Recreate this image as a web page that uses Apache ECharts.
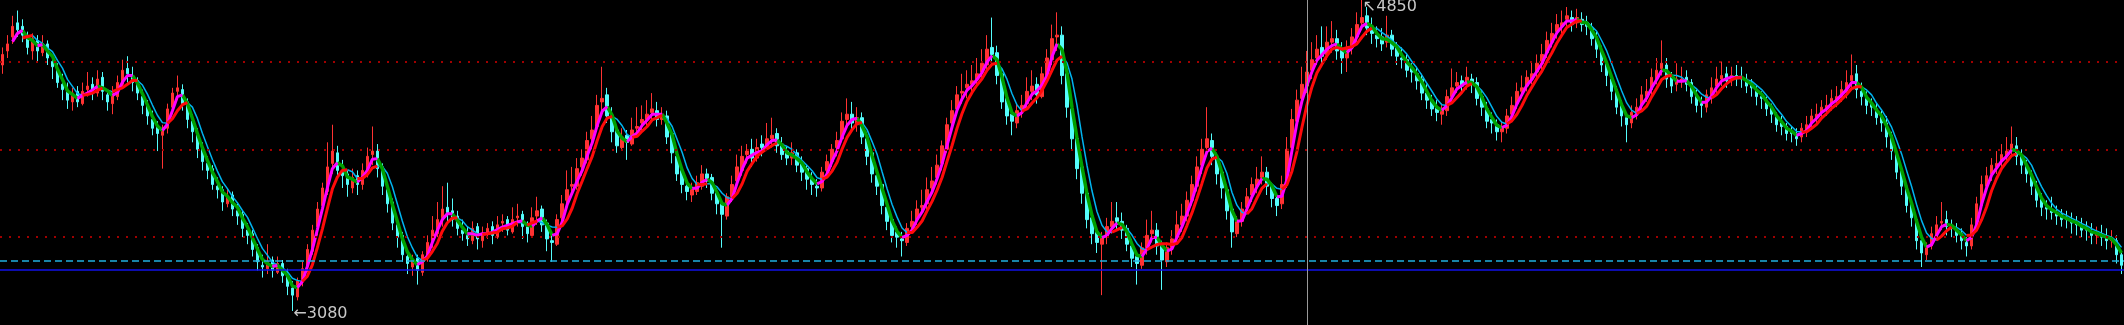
<!DOCTYPE html>
<html><head><meta charset="utf-8">
<script src="https://cdn.jsdelivr.net/npm/echarts@6/dist/echarts.min.js"></script>
<style>html,body{margin:0;padding:0;background:#000;}#c{width:2124px;height:325px;}</style>
</head><body><div id="c"></div>
<script>
// [open, close, low, high]
const candles = [
[4480,4540,4430,4580],[4560,4600,4520,4650],[4640,4700,4600,4760],[4720,4680,4640,4790],[4700,4650,4610,4740],[4630,4580,4540,4670],[4560,4630,4510,4660],[4620,4560,4500,4650],[4550,4600,4530,4650],[4600,4520,4480,4620],
[4500,4470,4400,4540],[4450,4380,4350,4490],[4370,4340,4280,4430],[4330,4280,4230,4380],[4270,4320,4220,4350],[4330,4270,4240,4360],[4260,4330,4250,4380],[4340,4360,4300,4440],[4370,4320,4280,4410],[4320,4400,4300,4450],
[4410,4330,4280,4440],[4310,4270,4220,4340],[4260,4320,4200,4360],[4300,4380,4280,4420],[4370,4450,4350,4510],[4460,4430,4380,4530],[4420,4380,4330,4470],[4390,4320,4280,4410],[4300,4250,4200,4340],[4250,4190,4140,4280],
[4170,4120,4080,4220],[4130,4090,3990,4160],[4080,4110,3890,4140],[4120,4230,4090,4260],[4240,4320,4200,4350],[4330,4350,4280,4420],[4340,4260,4220,4370],[4270,4170,4120,4290],[4160,4100,4040,4200],[4090,4000,3950,4120],
[4010,3930,3880,4040],[3920,3880,3830,3960],[3890,3800,3770,3910],[3790,3770,3720,3840],[3770,3700,3650,3790],[3690,3730,3670,3780],[3740,3660,3620,3760],[3650,3620,3570,3690],[3630,3550,3500,3650],[3540,3510,3460,3580],
[3520,3430,3390,3540],[3440,3360,3310,3460],[3340,3330,3270,3400],[3320,3360,3290,3460],[3370,3310,3270,3390],[3300,3350,3290,3390],[3350,3280,3240,3370],[3290,3220,3170,3320],[3210,3170,3080,3250],[3160,3250,3140,3270],
[3260,3320,3220,3360],[3340,3430,3300,3460],[3420,3540,3400,3570],[3560,3660,3510,3700],[3680,3780,3640,3810],[3760,3900,3740,4040],[3920,3990,3860,4140],[3980,3880,3840,4020],[3870,3850,3780,3940],[3860,3800,3730,3880],
[3780,3840,3750,3890],[3850,3800,3740,3880],[3800,3880,3770,3920],[3870,3960,3840,4010],[3970,3990,3910,4130],[3990,3890,3840,4030],[3900,3790,3740,3920],[3770,3690,3640,3810],[3700,3580,3540,3720],[3570,3500,3440,3600],
[3510,3400,3360,3530],[3390,3350,3290,3430],[3330,3370,3280,3400],[3380,3310,3230,3400],[3300,3400,3280,3420],[3390,3470,3360,3510],[3480,3540,3440,3620],[3520,3600,3500,3700],[3610,3660,3560,3790],[3670,3640,3590,3810],
[3650,3600,3560,3720],[3620,3550,3510,3650],[3540,3520,3480,3600],[3510,3490,3450,3560],[3480,3550,3460,3590],[3560,3490,3430,3580],[3480,3520,3440,3560],[3520,3550,3490,3580],[3560,3510,3460,3590],[3500,3570,3490,3620],
[3580,3590,3530,3630],[3600,3540,3510,3620],[3530,3600,3520,3670],[3610,3620,3560,3690],[3630,3560,3490,3650],[3560,3520,3470,3590],[3510,3610,3500,3670],[3620,3650,3570,3730],[3660,3570,3530,3680],[3580,3490,3420,3600],
[3480,3470,3360,3520],[3460,3600,3450,3630],[3610,3690,3570,3740],[3710,3770,3680,3880],[3790,3800,3730,3900],[3790,3890,3770,3950],[3900,3950,3850,4000],[3940,4050,3920,4100],[4060,4110,4000,4190],[4130,4250,4100,4310],
[4270,4290,4200,4470],[4310,4190,4150,4350],[4180,4100,4040,4240],[4110,4020,3980,4130],[4010,4070,4000,4120],[4080,4040,3940,4110],[4030,4110,4020,4180],[4120,4130,4070,4240],[4150,4170,4100,4250],[4170,4200,4130,4280],
[4210,4230,4160,4320],[4220,4170,4130,4270],[4170,4200,4140,4240],[4190,4070,4030,4220],[4090,3980,3920,4110],[3960,3860,3820,3990],[3880,3800,3750,3900],[3790,3760,3710,3830],[3740,3770,3700,3810],[3760,3810,3740,3850],
[3790,3860,3770,3910],[3860,3820,3780,3890],[3840,3750,3710,3860],[3750,3690,3630,3780],[3690,3630,3440,3710],[3620,3730,3600,3750],[3730,3800,3700,3850],[3820,3900,3780,3970],[3880,3960,3850,4020],[3970,3990,3920,4030],
[4000,3950,3900,4060],[3950,4010,3930,4060],[4030,4010,3960,4080],[4010,4060,3990,4150],[4060,4080,4010,4180],[4090,4020,3980,4120],[4030,3970,3940,4070],[3990,3950,3910,4020],[3950,3980,3910,4040],[3980,3910,3870,4000],
[3920,3870,3820,3960],[3890,3830,3770,3910],[3830,3800,3740,3870],[3790,3780,3730,3830],[3780,3870,3760,3900],[3880,3930,3840,3970],[3930,4000,3900,4030],[4010,4050,3960,4100],[4060,4160,4040,4210],[4170,4200,4120,4290],
[4200,4150,4100,4270],[4140,4180,4100,4240],[4180,4070,4030,4210],[4060,3960,3910,4100],[3980,3860,3810,3990],[3850,3790,3740,3890],[3800,3680,3630,3810],[3670,3590,3540,3700],[3600,3510,3470,3620],[3530,3500,3440,3560],
[3490,3480,3390,3530],[3470,3550,3450,3580],[3560,3590,3520,3650],[3600,3660,3570,3710],[3670,3680,3630,3770],[3690,3770,3660,3840],[3780,3820,3740,3900],[3840,3910,3800,3970],[3920,4020,3880,4050],[4000,4140,3980,4180],
[4150,4220,4100,4280],[4230,4310,4200,4360],[4320,4330,4260,4430],[4350,4370,4290,4450],[4370,4390,4330,4480],[4400,4430,4360,4520],[4440,4490,4400,4570],[4480,4570,4440,4650],[4580,4540,4470,4750],[4550,4420,4370,4590],
[4430,4270,4230,4460],[4290,4190,4140,4320],[4200,4160,4080,4240],[4150,4220,4120,4260],[4230,4250,4180,4310],[4260,4330,4230,4410],[4330,4360,4280,4450],[4370,4310,4260,4410],[4300,4430,4290,4470],[4420,4520,4400,4570],
[4510,4630,4480,4710],[4640,4650,4560,4780],[4650,4420,4370,4700],[4430,4240,4180,4460],[4230,4060,4000,4270],[4060,3890,3830,4090],[3900,3750,3690,3920],[3750,3600,3550,3770],[3610,3520,3460,3640],[3530,3470,3410,3550],
[3460,3500,3170,3530],[3500,3560,3460,3610],[3560,3590,3520,3700],[3610,3590,3540,3700],[3590,3540,3490,3640],[3550,3460,3420,3570],[3450,3380,3330,3490],[3390,3350,3230,3410],[3340,3440,3320,3470],[3440,3510,3400,3600],
[3520,3540,3470,3650],[3540,3450,3400,3580],[3460,3370,3200,3480],[3360,3440,3330,3470],[3440,3490,3400,3540],[3500,3570,3470,3650],[3570,3620,3530,3690],[3620,3710,3590,3760],[3710,3800,3680,3850],[3790,3900,3760,3960],
[3910,4000,3860,4060],[4010,4060,3960,4240],[4050,3960,3910,4090],[3950,3860,3800,3980],[3870,3780,3720,3890],[3770,3650,3600,3800],[3660,3530,3440,3680],[3520,3590,3500,3620],[3590,3660,3560,3700],[3670,3730,3640,3780],
[3740,3800,3700,3840],[3790,3830,3750,3900],[3840,3870,3800,3960],[3870,3790,3740,3900],[3790,3720,3670,3810],[3720,3680,3620,3740],[3690,3800,3660,3850],[3810,4000,3780,4070],[4010,4170,3980,4230],[4160,4280,4120,4340],
[4290,4370,4250,4470],[4360,4440,4320,4560],[4450,4510,4400,4610],[4520,4570,4480,4650],[4580,4530,4470,4700],[4540,4610,4510,4700],[4610,4630,4550,4730],[4630,4560,4510,4680],[4570,4520,4430,4610],[4520,4570,4440,4620],
[4580,4640,4540,4690],[4640,4710,4610,4780],[4720,4750,4680,4850],[4760,4690,4650,4810],[4700,4660,4600,4750],[4650,4630,4580,4700],[4640,4600,4560,4690],[4610,4650,4580,4760],[4650,4570,4530,4680],[4580,4530,4480,4610],
[4520,4510,4460,4580],[4510,4450,4410,4540],[4460,4440,4380,4490],[4430,4390,4340,4470],[4400,4320,4280,4430],[4320,4280,4230,4370],[4280,4230,4190,4310],[4240,4210,4160,4280],[4200,4230,4140,4260],[4220,4300,4190,4340],
[4300,4350,4260,4460],[4360,4380,4320,4440],[4390,4360,4320,4420],[4370,4410,4340,4470],[4400,4370,4320,4430],[4380,4290,4250,4410],[4300,4240,4190,4330],[4230,4160,4120,4270],[4170,4150,4090,4210],[4140,4100,4050,4170],
[4100,4120,4040,4160],[4120,4190,4090,4230],[4200,4250,4160,4300],[4260,4330,4230,4380],[4330,4350,4290,4420],[4360,4410,4330,4450],[4400,4430,4370,4500],[4440,4490,4410,4540],[4490,4540,4450,4600],[4550,4620,4520,4670],
[4610,4660,4580,4720],[4670,4710,4630,4770],[4700,4720,4660,4790],[4740,4760,4700,4810],[4750,4710,4670,4790],[4720,4750,4690,4800],[4740,4710,4670,4780],[4720,4700,4650,4760],[4690,4630,4590,4720],[4640,4570,4520,4670],
[4560,4480,4440,4590],[4490,4420,4360,4510],[4400,4330,4280,4430],[4340,4240,4200,4360],[4250,4190,4130,4280],[4180,4140,4040,4210],[4150,4210,4120,4250],[4200,4240,4170,4290],[4250,4310,4220,4360],[4300,4330,4270,4400],
[4340,4410,4310,4460],[4400,4450,4370,4520],[4460,4490,4420,4620],[4480,4400,4350,4520],[4410,4360,4320,4440],[4370,4400,4330,4490],[4390,4400,4350,4470],[4410,4370,4330,4450],[4380,4300,4260,4400],[4310,4250,4210,4340],
[4260,4250,4180,4300],[4240,4310,4210,4340],[4300,4350,4260,4410],[4360,4400,4320,4470],[4400,4420,4360,4500],[4430,4390,4350,4470],[4390,4420,4360,4470],[4420,4410,4360,4480],[4410,4400,4350,4470],[4400,4360,4320,4430],
[4370,4350,4300,4400],[4340,4300,4250,4360],[4300,4290,4230,4330],[4280,4230,4190,4300],[4240,4200,4150,4260],[4190,4140,4100,4210],[4150,4130,4080,4190],[4130,4090,4050,4150],[4100,4090,4040,4130],[4080,4060,4020,4120],
[4070,4120,4040,4150],[4110,4140,4070,4190],[4150,4190,4120,4230],[4180,4200,4140,4260],[4210,4240,4170,4280],[4230,4250,4190,4310],[4260,4290,4220,4340],[4280,4300,4240,4360],[4300,4340,4270,4390],[4330,4380,4290,4450],
[4390,4420,4340,4540],[4430,4340,4290,4480],[4330,4300,4250,4380],[4290,4250,4200,4330],[4260,4240,4190,4290],[4230,4180,4140,4260],[4190,4150,4100,4220],[4150,4070,4010,4190],[4080,3990,3940,4100],[3980,3870,3830,4000],
[3880,3790,3740,3900],[3790,3680,3640,3800],[3690,3610,3560,3710],[3600,3480,3430,3620],[3480,3410,3330,3500],[3400,3440,3370,3470],[3450,3520,3430,3560],[3500,3570,3480,3620],[3580,3590,3540,3700],[3600,3560,3510,3650],
[3570,3550,3500,3600],[3540,3510,3470,3580],[3520,3480,3430,3550],[3470,3450,3390,3500],[3450,3570,3430,3610],[3560,3690,3540,3730],[3680,3800,3660,3850],[3790,3850,3760,3900],[3860,3910,3820,3950],[3900,3920,3860,3990],
[3930,3970,3900,4030],[3960,3990,3920,4070],[4000,4030,3960,4130],[4020,3960,3910,4070],[3960,3910,3860,4000],[3910,3860,3810,3940],[3850,3790,3740,3880],[3790,3710,3670,3820],[3720,3670,3620,3750],[3670,3660,3600,3710],
[3650,3640,3600,3730],[3640,3620,3570,3680],[3630,3600,3560,3660],[3610,3600,3550,3650],[3590,3580,3520,3640],[3580,3570,3510,3620],[3560,3540,3500,3610],[3550,3540,3480,3590],[3530,3510,3460,3580],[3510,3520,3460,3560],
[3510,3500,3450,3570],[3500,3480,3430,3550],[3480,3490,3440,3540],[3480,3400,3350,3510],[3400,3340,3290,3420]
];
const gridLevels = [4500, 4000, 3500];
const dashLevel = 3367;
const solidLevel = 3316;
const dividerIndex = 261;
const fastPeriod = 3, slowPeriod = 5;
const lowLabel = '\u21903080';
const highLabel = '\u21964850';

const categories = candles.map((_, i) => String(i));
const closes = candles.map(c => c[1]);
function ma(p) {
  return closes.map((_, i) => {
    if (i < p - 1) return null;
    let s = 0; for (let k = 0; k < p; k++) s += closes[i - k];
    return Math.round(s / p);
  });
}
function split(arr) {
  const up = arr.map(() => null), dn = arr.map(() => null);
  for (let i = 1; i < arr.length; i++) {
    if (arr[i] == null || arr[i - 1] == null) continue;
    const t = arr[i] >= arr[i - 1] ? up : dn;
    t[i - 1] = arr[i - 1]; t[i] = arr[i];
  }
  return [up, dn];
}
const [fUp, fDn] = split(ma(fastPeriod));
const [sUp, sDn] = split(ma(slowPeriod));
let lowIdx = 0, highIdx = 0;
candles.forEach((c, i) => { if (c[2] < candles[lowIdx][2]) lowIdx = i; if (c[3] > candles[highIdx][3]) highIdx = i; });

const chart = echarts.init(document.getElementById('c'), null, {renderer: 'canvas'});
const lineBase = {type: 'line', symbol: 'none', connectNulls: false, silent: true, animation: false};
const labelFont = {color: '#c8c8c8', fontSize: 16, fontFamily: 'DejaVu Sans'};
chart.setOption({
  backgroundColor: '#000',
  animation: false,
  grid: {left: 0, right: 0, top: 0, bottom: 0},
  xAxis: {type: 'category', data: categories, boundaryGap: true, show: false},
  yAxis: {type: 'value', min: 3000, max: 4850, show: false, splitLine: {show: false}},
  series: [
    {
      type: 'candlestick', data: candles, barWidth: 3,
      itemStyle: {color: '#ff3232', color0: '#54fcfc', borderColor: '#ff3232', borderColor0: '#54fcfc', borderWidth: 1},
      markLine: {
        symbol: 'none', silent: true, label: {show: false},
        data: [
          ...gridLevels.map(v => ({yAxis: v, lineStyle: {color: '#a00000', width: 2, type: [2, 7]}})),
          {yAxis: dashLevel, lineStyle: {color: '#20b0e0', width: 1.5, type: [7, 4]}},
          {yAxis: solidLevel, lineStyle: {color: '#1010e8', width: 1.5, type: 'solid'}},
          {xAxis: dividerIndex, lineStyle: {color: '#9a9a9a', width: 1, type: 'solid'}}
        ]
      },
      markPoint: {
        symbol: 'circle', symbolSize: 0, silent: true,
        data: [
          {coord: [lowIdx, candles[lowIdx][2]], label: Object.assign({show: true, formatter: lowLabel, position: 'right', offset: [-4, 3]}, labelFont)},
          {coord: [highIdx, candles[highIdx][3]], label: Object.assign({show: true, formatter: highLabel, position: 'right', offset: [-4, 7]}, labelFont)}
        ]
      }
    },
    Object.assign({}, lineBase, {data: sDn, lineStyle: {color: '#00b4f0', width: 1.5}}),
    Object.assign({}, lineBase, {data: fDn, lineStyle: {color: '#00a000', width: 3.5}}),
    Object.assign({}, lineBase, {data: fUp, lineStyle: {color: '#ff00ff', width: 3}}),
    Object.assign({}, lineBase, {data: sUp, lineStyle: {color: '#ff0a0a', width: 3}})
  ]
});
</script></body></html>
